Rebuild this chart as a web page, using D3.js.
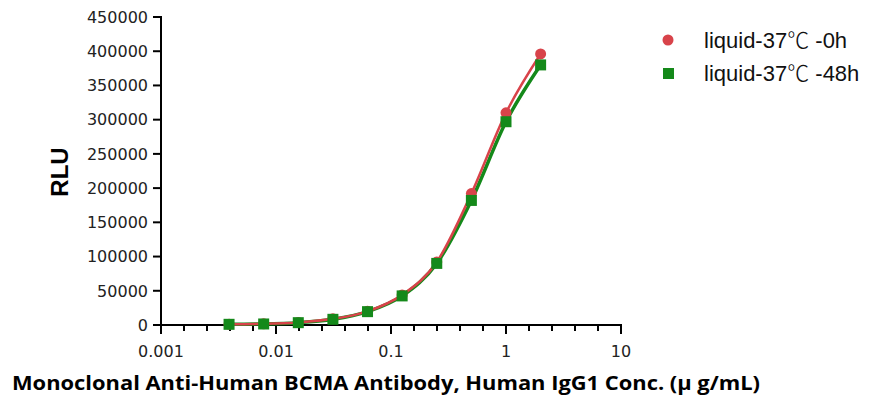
<!DOCTYPE html>
<html>
<head>
<meta charset="utf-8">
<script src="https://cdn.jsdelivr.net/npm/d3@7"></script>
<style>
  body { margin: 0; background: #fff; }
  svg { display: block; }
</style>
</head>
<body>
<div id="chart"></div>
<script>
// Concentrations (µg/mL), 2-fold dilution series
const conc = [2, 1, 0.5, 0.25, 0.125, 0.0625, 0.03125, 0.015625, 0.0078125, 0.00390625];
// RLU
const rlu0h  = [396000, 310000, 192000, 92000, 44000, 20000, 9000, 3800, 1800, 1200];
const rlu48h = [380000, 297000, 182000, 90000, 42500, 19500, 8300, 3400, 1500, 1000];
// legend label parts: before / degree sign / after
const seriesNames = [["liquid-37", "\u2103", " -0h"], ["liquid-37", "\u2103", " -48h"]];
const seriesColors = ["#d8434a", "#14891a"];
const yTicks = [0, 50000, 100000, 150000, 200000, 250000, 300000, 350000, 400000, 450000];
const xMajor = [0.001, 0.01, 0.1, 1, 10];
const xLabels = ["0.001", "0.01", "0.1", "1", "10"];

const W = 882, H = 397;
const svg = d3.select("#chart").append("svg")
  .attr("width", W)
  .attr("height", H);

// Scales
const x = d3.scaleLog().domain([0.001, 10]).range([161, 621]);
const y = d3.scaleLinear().domain([0, 450000]).range([325, 17]);

// Minor ticks, evenly spaced inside each decade (4 per decade)
const xMinor = [];
for (let k = -3; k < 1; k++) {
  for (let j = 1; j < 5; j++) xMinor.push(Math.pow(10, k + j / 5));
}

const font = "'DejaVu Sans', sans-serif";

// Y axis
const yAxis = svg.append("g").attr("transform", "translate(161,0)");
yAxis.append("line")
  .attr("y1", y(450000) - 1).attr("y2", y(0) + 1)
  .attr("stroke", "#000").attr("stroke-width", 2);
yAxis.selectAll("line.tk").data(yTicks).enter().append("line")
  .attr("class", "tk")
  .attr("x1", -8).attr("x2", 0)
  .attr("y1", d => y(d)).attr("y2", d => y(d))
  .attr("stroke", "#000").attr("stroke-width", 2);
yAxis.selectAll("text").data(yTicks).enter().append("text")
  .attr("x", -13)
  .attr("y", d => y(d))
  .attr("dy", "0.36em")
  .attr("text-anchor", "end")
  .style("font-family", font)
  .style("font-size", "16px")
  .attr("fill", "#222")
  .text(d => d);

// X axis
const xAxis = svg.append("g").attr("transform", "translate(0,325)");
xAxis.append("line")
  .attr("x1", x(0.001) - 1).attr("x2", x(10) + 1)
  .attr("stroke", "#000").attr("stroke-width", 2);
xAxis.selectAll("line.mj").data(xMajor).enter().append("line")
  .attr("class", "mj")
  .attr("x1", d => x(d)).attr("x2", d => x(d))
  .attr("y1", 0).attr("y2", 9)
  .attr("stroke", "#000").attr("stroke-width", 2);
xAxis.selectAll("line.mn").data(xMinor).enter().append("line")
  .attr("class", "mn")
  .attr("x1", d => x(d)).attr("x2", d => x(d))
  .attr("y1", 0).attr("y2", 6)
  .attr("stroke", "#000").attr("stroke-width", 2);
xAxis.selectAll("text").data(xMajor).enter().append("text")
  .attr("x", d => x(d))
  .attr("y", 32)
  .attr("text-anchor", "middle")
  .style("font-family", font)
  .style("font-size", "16px")
  .attr("fill", "#222")
  .text((d, i) => xLabels[i]);

// Axis titles
svg.append("text")
  .attr("transform", "translate(68,172) rotate(-90)")
  .attr("text-anchor", "middle")
  .style("font-family", "'Liberation Sans', Arial, sans-serif")
  .style("font-weight", "bold")
  .style("font-size", "24px")
  .text("RLU");

svg.append("text")
  .attr("x", 12)
  .attr("y", 390)
  .attr("textLength", 748)
  .attr("lengthAdjust", "spacingAndGlyphs")
  .style("font-family", "'Open Sans', sans-serif")
  .style("font-weight", "bold")
  .style("font-size", "20px")
  .text("Monoclonal Anti-Human BCMA Antibody, Human IgG1 Conc. (\u03bc g/mL)");

// Curves through the points
const line = d3.line()
  .x(d => x(d[0]))
  .y(d => y(d[1]))
  .curve(d3.curveMonotoneX);

const pts0 = conc.map((c, i) => [c, rlu0h[i]]).sort((a, b) => a[0] - b[0]);
const pts48 = conc.map((c, i) => [c, rlu48h[i]]).sort((a, b) => a[0] - b[0]);

svg.append("path").datum(pts48)
  .attr("d", line)
  .attr("fill", "none")
  .attr("stroke", seriesColors[1])
  .attr("stroke-width", 3.5);
svg.append("path").datum(pts0)
  .attr("d", line)
  .attr("fill", "none")
  .attr("stroke", seriesColors[0])
  .attr("stroke-width", 2.5);

// Markers
svg.selectAll("circle.s0").data(pts0).enter().append("circle")
  .attr("class", "s0")
  .attr("cx", d => x(d[0]))
  .attr("cy", d => y(d[1]))
  .attr("r", 5.5)
  .attr("fill", seriesColors[0]);
svg.selectAll("rect.s1").data(pts48).enter().append("rect")
  .attr("class", "s1")
  .attr("x", d => x(d[0]) - 5.5)
  .attr("y", d => y(d[1]) - 5.5)
  .attr("width", 11)
  .attr("height", 11)
  .attr("fill", seriesColors[1]);

// Legend
const legend = svg.append("g");
legend.append("circle")
  .attr("cx", 668).attr("cy", 40).attr("r", 5.5)
  .attr("fill", seriesColors[0]);
legend.append("rect")
  .attr("x", 663).attr("y", 68).attr("width", 11).attr("height", 11)
  .attr("fill", seriesColors[1]);
const lt = legend.selectAll("text").data(seriesNames).enter().append("text")
  .attr("x", 704)
  .attr("y", (d, i) => 40 + i * 33)
  .attr("dy", "0.36em")
  .style("font-family", "'Liberation Sans', Arial, sans-serif")
  .style("font-size", "22px")
  .attr("fill", "#111");
lt.append("tspan").text(d => d[0]);
lt.append("tspan")
  .style("font-family", "'Noto Sans CJK SC', sans-serif")
  .style("font-weight", "300")
  .text(d => d[1]);
lt.append("tspan").text(d => d[2]);
</script>
</body>
</html>
